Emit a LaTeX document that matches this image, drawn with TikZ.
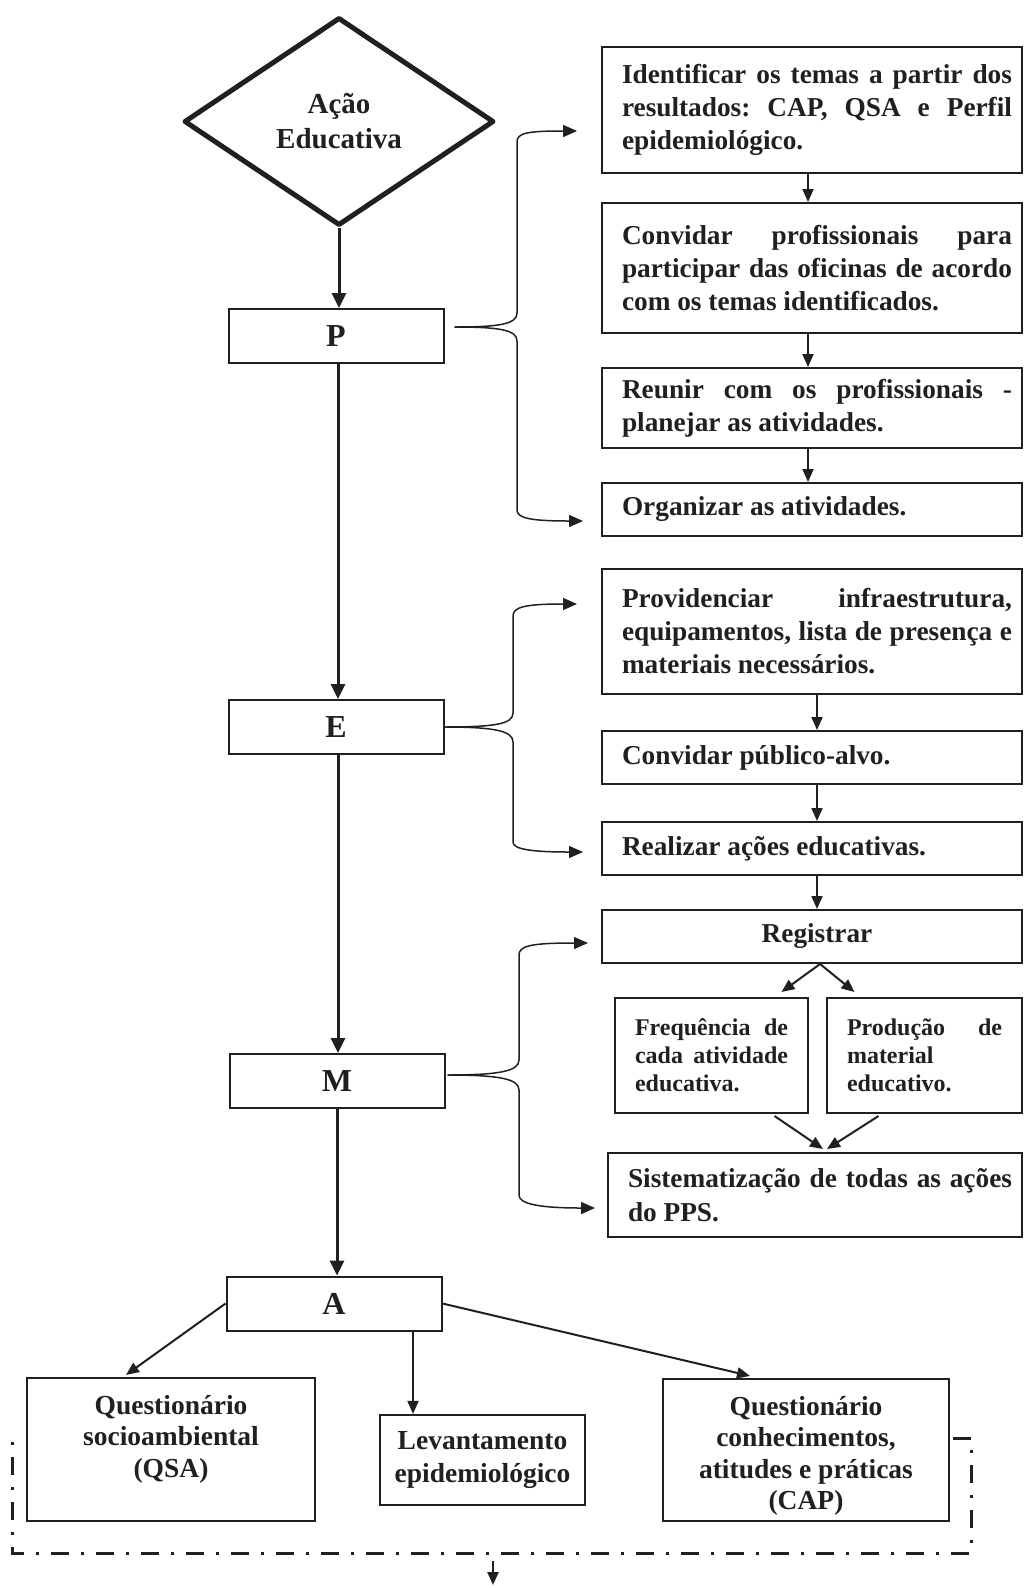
\documentclass[tikz,border=0pt]{standalone}
\usepackage{fontspec}
\setmainfont{Liberation Serif}
\usetikzlibrary{arrows.meta,shapes.geometric,calc}
\definecolor{ink}{RGB}{35,31,32}
\newcommand\jst{\frenchspacing\leftskip=10pt\relax\hyphenpenalty=10000\relax\exhyphenpenalty=10000\relax\tolerance=10000\relax}
\newcommand\jsf{\frenchspacing\hyphenpenalty=10000\relax\exhyphenpenalty=10000\relax\tolerance=10000\relax}
\begin{document}
\begin{tikzpicture}[x=1pt,y=-1pt,
  rbox/.style={draw=ink,text=ink,line width=2pt,inner xsep=10pt,inner ysep=0pt,text width=400pt,align=justify,font=\fontsize{27.3}{33}\selectfont\bfseries},
  sbox/.style={draw=ink,text=ink,line width=2pt,inner xsep=20pt,inner ysep=0pt,align=justify,font=\fontsize{24}{28}\selectfont\bfseries},
  lbox/.style={draw=ink,text=ink,line width=2pt,minimum width=215pt,minimum height=54pt,inner sep=0pt,font=\fontsize{32}{32}\selectfont\bfseries},
  bbox/.style={draw=ink,line width=2.2pt,inner sep=0pt},
  btxt/.style={text=ink,align=center,inner sep=0pt,font=\fontsize{27.5}{31.5}\selectfont\bfseries},
  mainarr/.style={draw=ink,line width=3pt,-{Triangle[length=15pt,width=14pt]}},
  sarr/.style={draw=ink,line width=2pt,-{Triangle[length=13pt,width=11pt]}},
  brc/.style={draw=ink,line width=1.5pt,-{Triangle[length=14pt,width=12pt]}},
  ddline/.style={draw=ink,line width=3pt,dash pattern=on 18pt off 12pt on 3pt off 12pt}
]
\fill[white] (0,0) rectangle (1024,1588);
\useasboundingbox (0,0) rectangle (1024,1588);

% left column
\node[diamond,draw=ink,text=ink,line width=5pt,line join=round,minimum width=310pt,minimum height=208pt,inner sep=0pt,aspect=1.49,align=center,font=\fontsize{29}{35}\selectfont\bfseries] (dia) at (339,121.5) {Ação\\Educativa};
\node[lbox] (P) at (336,336) {P};
\node[lbox] (E) at (336,727) {E};
\node[lbox] (M) at (337,1081) {M};
\node[lbox] (A) at (334,1303.5) {A};

\draw[mainarr] (dia.south) -- (dia.south |- P.north);
\coordinate (pe1) at ($(P.south)+(2,0)$);
\draw[mainarr] (pe1) -- (pe1 |- E.north);
\coordinate (em1) at ($(E.south)+(2,0)$);
\draw[mainarr] (em1) -- (em1 |- M.north);
\draw[mainarr] (M.south) -- (M.south |- A.north);

% right column, P group
\node[rbox,minimum height=126pt] (b1) at (812,110) {\jst Identificar os temas a partir dos\linebreak resultados: CAP, QSA e Perfil\linebreak epidemiológico.\par};
\node[rbox,minimum height=130pt] (b2) at (812,268) {\jst Convidar profissionais para\linebreak participar das oficinas de acordo\linebreak com os temas identificados.\par};
\node[rbox,minimum height=80pt] (b3) at (812,408) {\jst Reunir com os profissionais -\linebreak planejar as atividades.\par};
\node[rbox,minimum height=53pt] (b4) at (812,509.5) {\jst Organizar as atividades.\par};

\draw[sarr] ($(b1.south)+(-4,0)$) -- ($(b2.north)+(-4,0)$);
\draw[sarr] ($(b2.south)+(-4,0)$) -- ($(b3.north)+(-4,0)$);
\draw[sarr] ($(b3.south)+(-4,0)$) -- ($(b4.north)+(-4,0)$);

% E group
\node[rbox,minimum height=125pt] (b5) at (812,631.5) {\jst Providenciar infraestrutura,\linebreak equipamentos, lista de presença e\linebreak materiais necessários.\par};
\node[rbox,minimum height=53pt] (b6) at (812,757.5) {\jst Convidar público-alvo.\par};
\node[rbox,minimum height=53pt] (b7) at (812,848.5) {\jst Realizar ações educativas.\par};

\draw[sarr] ($(b5.south)+(5,0)$) -- ($(b6.north)+(5,0)$);
\draw[sarr] ($(b6.south)+(5,0)$) -- ($(b7.north)+(5,0)$);

% M group
\node[draw=ink,text=ink,line width=2pt,minimum width=420pt,minimum height=53pt,inner sep=0pt,font=\fontsize{27.3}{33}\selectfont\bfseries] (reg) at (812,936.5) {\hspace*{10pt}Registrar};
\draw[sarr] ($(b7.south)+(5,0)$) -- ($(reg.north)+(5,0)$);

\node[sbox,text width=153pt,minimum height=115pt] (freq) at (711.5,1055.5) {\jsf Frequência de\linebreak cada atividade\linebreak educativa.\par};
\node[sbox,text width=155pt,minimum height=115pt] (prod) at (924.5,1055.5) {\jsf Produção de\linebreak material\newline educativo.\par};
\node[draw=ink,text=ink,line width=2pt,inner xsep=10pt,inner ysep=0pt,text width=394pt,align=justify,minimum height=84pt,font=\fontsize{27.3}{34}\selectfont\bfseries] (sis) at (815,1195) {\jst Sistematização de todas as ações\linebreak do PPS.\par};

\draw[sarr] ($(reg.south)+(8,0)$) -- ($(freq.north)+(70,-5)$);
\draw[sarr] ($(reg.south)+(8,0)$) -- ($(prod.north)+(-70,-5)$);
\draw[sarr] ($(freq.south)+(63,2)$) -- ($(sis.north)+(8,-3)$);
\draw[sarr] ($(prod.south)+(-46,2)$) -- ($(sis.north)+(12,-3)$);

% braces
\coordinate (pS) at ($(P.east)+(10,-9)$);
\coordinate (pT) at (577,131);
\coordinate (pB) at (583,521);
\draw[brc] (pS) .. controls (500,327) and (517,324) .. (517,313) -- (517,142) .. controls (517,133) and (527,131) .. (pT);
\draw[brc] (pS) .. controls (500,327) and (517,330) .. (517,341) -- (517,510) .. controls (517,518) and (530,521) .. (pB);

\coordinate (eS) at (E.east);
\coordinate (eT) at (577,604);
\coordinate (eB) at (583,852);
\draw[brc] (eS) .. controls (495,727) and (513,724) .. (513,713) -- (513,616) .. controls (513,607) and (525,604) .. (eT);
\draw[brc] (eS) .. controls (495,727) and (513,731) .. (513,742) -- (513,842) .. controls (513,849) and (530,852) .. (eB);

\coordinate (mS) at ($(M.east)+(2,-6)$);
\coordinate (mT) at (588,943);
\coordinate (mB) at (595,1208);
\draw[brc] (mS) .. controls (500,1075) and (519,1071) .. (519,1060) -- (519,955) .. controls (519,946) and (530,943) .. (mT);
\draw[brc] (mS) .. controls (500,1075) and (519,1079) .. (519,1090) -- (519,1195) .. controls (519,1203) and (535,1208) .. (mB);

% bottom boxes
\node[bbox,minimum width=288pt,minimum height=143pt] (qsa) at (171,1449.5) {};
\node[btxt] (qsat) at (171,1439) {Questionário\\socioambiental\\(QSA)};
\node[bbox,minimum width=205pt,minimum height=90pt,text=ink,align=center,font=\fontsize{27.5}{33}\selectfont\bfseries] (lev) at (482.5,1460) {Levantamento\\epidemiológico};
\node[bbox,minimum width=286pt,minimum height=142pt] (cap) at (806,1450) {};
\node[btxt] (capt) at (806,1456) {Questionário\\conhecimentos,\\atitudes e práticas\\(CAP)};

\coordinate (al) at ($(A.south)+(79,0)$);
\draw[sarr] (A.west) -- ($(qsa.north)+(-45,-2)$);
\draw[sarr] (al) -- (al |- lev.north);
\draw[sarr] (A.east) -- ($(cap.north)+(-56,-2)$);

% dash-dot frame
\draw[ddline] (953,1438) -- (971,1438) -- (971,1553) -- (12,1553) -- (12,1440);
\coordinate (d1) at (493,1561);
\coordinate (d2) at (493,1585);
\draw[sarr,line width=2.5pt] (d1) -- (d2);
\end{tikzpicture}
\end{document}
